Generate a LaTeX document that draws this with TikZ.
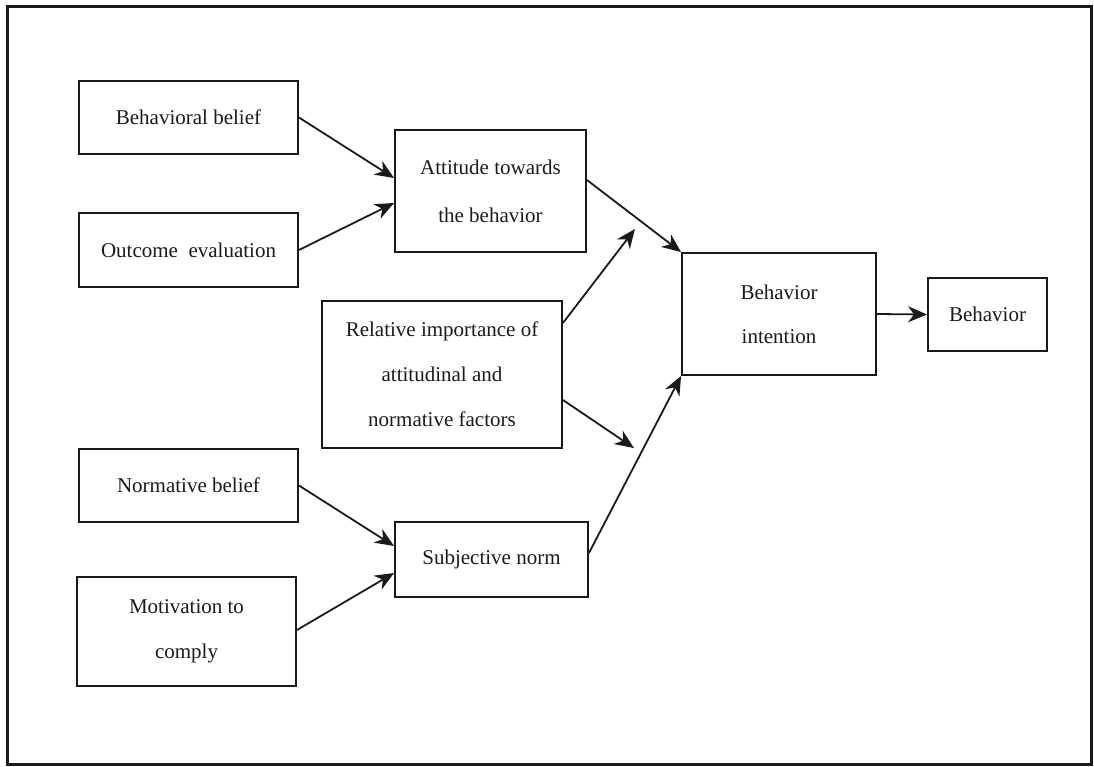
\documentclass[tikz,border=0pt]{standalone}
\usepackage{fontspec}
\setmainfont{Liberation Serif}
\usetikzlibrary{arrows.meta}
\definecolor{ink}{HTML}{1A1A1A}
\tikzset{
  box/.style={draw=ink, line width=1.9pt, inner sep=0pt, align=center,
    text=ink, font=\fontsize{21}{45}\selectfont},
  link/.style={draw=ink, line width=1.8pt,
    -{Stealth[length=19pt, width=16pt, inset=6pt]}},
}
\begin{document}
\begin{tikzpicture}[x=1pt, y=-1pt]
  \useasboundingbox (0,0) rectangle (1094,766);
  % outer frame
  \draw[ink, line width=3pt] (7,6) rectangle (1091,764);

  % left column: beliefs and evaluations
  \node[box, minimum width=219pt, minimum height=73pt] (bb) at (188.5,117.5) {Behavioral belief};
  \node[box, minimum width=219pt, minimum height=74pt] (oe) at (188.5,250) {Outcome\ \ evaluation};
  \node[box, minimum width=219pt, minimum height=73pt] (nb) at (188.5,485.5) {Normative belief};
  \node[box, minimum width=219pt, minimum height=109pt, font=\fontsize{21}{45}\selectfont] (mc) at (186.5,631.5) {Motivation to\\comply};

  % middle column
  \node[box, minimum width=191pt, minimum height=122pt, font=\fontsize{21}{48}\selectfont] (att) at (490.5,191) {Attitude towards\\the behavior};
  \node[box, minimum width=240pt, minimum height=147pt, font=\fontsize{21}{45}\selectfont] (rel) at (442,374.5) {Relative importance of\\attitudinal and\\normative factors};
  \node[box, minimum width=193pt, minimum height=75pt] (sn) at (491.5,559.5) {Subjective norm};

  % right column
  \node[box, minimum width=194pt, minimum height=122pt, font=\fontsize{21}{44}\selectfont] (bi) at (779,314) {Behavior\\intention};
  \node[box, minimum width=119pt, minimum height=73pt] (beh) at (987.5,314.5) {Behavior};

  % free ends of the weighting arrows
  \coordinate (wa) at (635,229);
  \coordinate (wn) at (634,448);

  % connectors
  \draw[link] (bb.east) -- ([yshift=13pt]att.west);
  \draw[link] (oe.east) -- ([yshift=-12pt]att.west);
  \draw[link] ([yshift=11pt]att.east) -- (bi.north west);
  \draw[link] ([yshift=51.5pt]rel.east) -- (wa);
  \draw[link] ([yshift=-25.5pt]rel.east) -- (wn);
  \draw[link] ([yshift=6.5pt]sn.east) -- (bi.south west);
  \draw[link] (nb.east) -- ([yshift=13.5pt]sn.west);
  \draw[link] ([yshift=1.5pt]mc.east) -- ([yshift=-13.5pt]sn.west);
  \draw[link] (bi.east) -- (beh.west);
\end{tikzpicture}
\end{document}
